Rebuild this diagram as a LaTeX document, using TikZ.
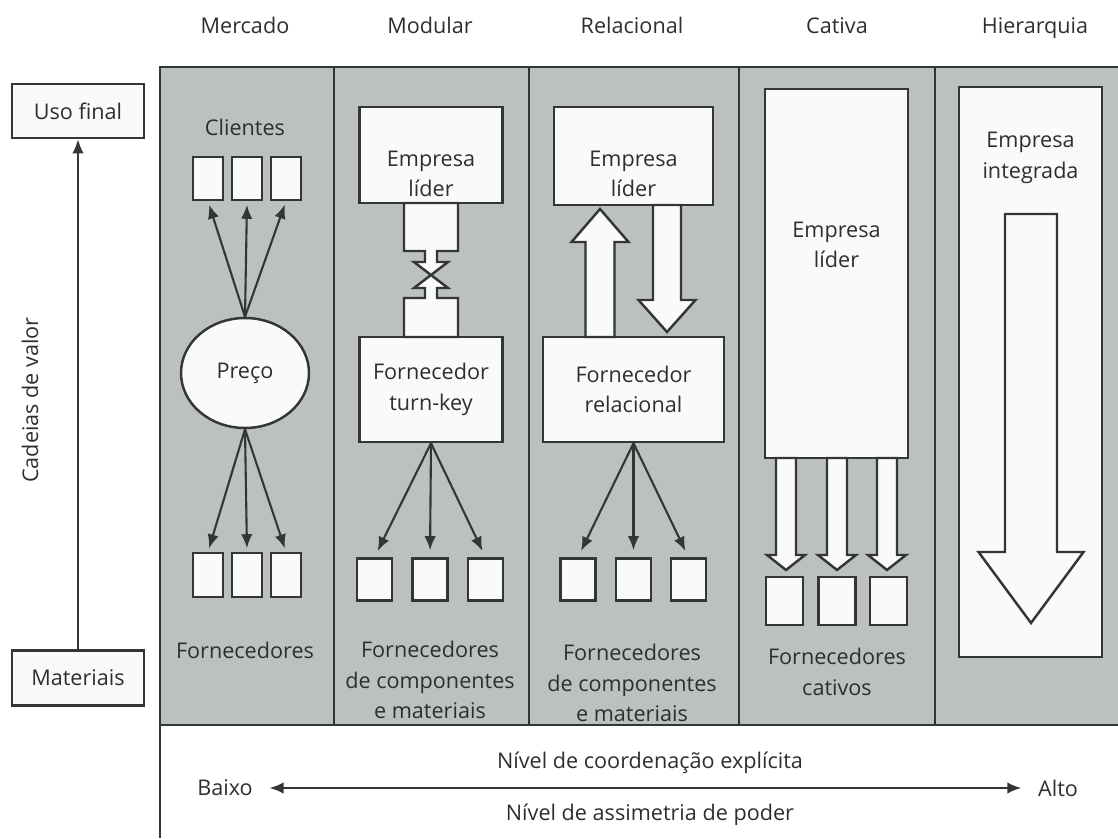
\documentclass[tikz,border=0pt]{standalone}
\usepackage{fontspec}
\setmainfont{Open Sans}
\usetikzlibrary{arrows.meta}
\usetikzlibrary{shapes.geometric}
\definecolor{color_panel_bg}{HTML}{BBC1C1}
\definecolor{color_line}{HTML}{353535}
\definecolor{color_box}{HTML}{FAFAFA}
\definecolor{color_text}{HTML}{2E2E2E}
\def\boxlinewidth{1.4pt}
\def\arrowlinewidth{1.2pt}
\def\hollowarrow[#1](#2,#3,#4,#5,#6,#7){
    \draw[#1] ({#2-#6},#3) -- ({#2-#6},#4) -- ({#2-#7},#4) -- (#2,#5)
        -- ({#2+#7},#4) -- ({#2+#6},#4) -- ({#2+#6},#3) -- cycle;
}

\begin{document}
\begin{tikzpicture}[x=0.02cm,y=-0.02cm,
        every node/.style={text=color_text,font=\fontsize{12.3}{17.5}\selectfont,align=center},
        title/.style={anchor=base},
        box/.style={draw=color_line,fill=color_box,line width=\boxlinewidth,inner sep=0pt},
        cell/.style={box,minimum width=0.7cm,minimum height=0.84cm},
        hollow/.style={draw=color_line,fill=color_box,line width=\boxlinewidth,line join=miter},
        arrow/.style={color_line,line width=\arrowlinewidth,-{Latex[length=8pt,width=6.5pt]}}]
        \useasboundingbox (0,0) rectangle (1118,838);
        % panel
        \fill[color_panel_bg] (160,67) rectangle (1118,725);
        \draw[color_line,line width=\boxlinewidth] (1118,67) -- (160,67) -- (160,838);
        \draw[color_line,line width=\boxlinewidth] (160,725) -- (1118,725);
        \foreach \x in {334,529,739,935}
            \draw[color_line,line width=\boxlinewidth] (\x,67) -- (\x,725);
        % column titles
        \node[title] (t_mercado) at (245,34) {Mercado};
        \node[title] (t_modular) at (430,34) {Modular};
        \node[title] (t_relacional) at (632,34) {Relacional};
        \node[title] (t_cativa) at (837,34) {Cativa};
        \node[title] (t_hierarquia) at (1035,34) {Hierarquia};
        % value chain axis
        \node[box,minimum width=2.64cm,minimum height=1.08cm] (usofinal) at (78,111) {Uso final};
        \node[box,minimum width=2.64cm,minimum height=1.1cm] (materiais) at (78,678) {Materiais};
        \draw[arrow] (materiais) -- (usofinal);
        \node[rotate=90] (cadeias) at (30,400) {Cadeias de valor};
        % mercado
        \node (clientes) at (245,127) {Clientes};
        \node[cell,minimum width=0.6cm,minimum height=0.86cm] (cli1) at (208,178.5) {};
        \node[cell,minimum width=0.6cm,minimum height=0.86cm] (cli2) at (247,178.5) {};
        \node[cell,minimum width=0.6cm,minimum height=0.86cm] (cli3) at (286,178.5) {};
        \node[box,ellipse,minimum width=2.56cm,minimum height=2.2cm] (preco) at (245,373) {Preço};
        \node[cell,minimum width=0.6cm,minimum height=0.88cm] (mfor1) at (208,575) {};
        \node[cell,minimum width=0.6cm,minimum height=0.88cm] (mfor2) at (247,575) {};
        \node[cell,minimum width=0.6cm,minimum height=0.88cm] (mfor3) at (286,575) {};
        \node (fornecedores) at (245,650) {Fornecedores};
        \foreach \i in {1,2,3} {
            \draw[arrow,shorten >=2pt] (preco.north) -- (cli\i.south);
            \draw[arrow,shorten >=2pt] (preco.south) -- (mfor\i.north);
        }
        % modular
        \node[box,minimum width=2.86cm,minimum height=1.92cm] (lider_mod) at (431,155) {};
        \node (lider_mod_txt) at (431,174) {Empresa\\líder};
        \node[box,minimum width=2.86cm,minimum height=2.1cm] (turnkey) at (431,389.5) {Fornecedor\\turn-key};
        \draw[hollow] (404,203) -- (404,251) -- (425,251) -- (425,262) -- (414,262) -- (431,275)
            -- (448,262) -- (437,262) -- (437,251) -- (458,251) -- (458,203) -- cycle;
        \draw[hollow] (404,337) -- (404,298) -- (425,298) -- (425,288) -- (414,288) -- (431,275)
            -- (448,288) -- (437,288) -- (437,298) -- (458,298) -- (458,337) -- cycle;
        \node[cell] (mod1) at (374.5,579.5) {};
        \node[cell] (mod2) at (430,579.5) {};
        \node[cell] (mod3) at (485.5,579.5) {};
        \foreach \i in {1,2,3}
            \draw[arrow,shorten >=4pt] (turnkey.south) -- (mod\i.north);
        \node (componentes_mod) at (430,680) {Fornecedores\\de componentes\\e materiais};
        % relacional
        \node[box,minimum width=3.18cm,minimum height=1.96cm] (lider_rel) at (633.5,156) {};
        \node (lider_rel_txt) at (633.5,174) {Empresa\\líder};
        \node[box,minimum width=3.62cm,minimum height=2.1cm] (relacional) at (633.5,389.5) {Fornecedor\\relacional};
        \hollowarrow[hollow](600,337,242,209,14.5,28.5)
        \hollowarrow[hollow](667,205,300,332,14,28.5)
        \node[cell] (rel1) at (578,579.5) {};
        \node[cell] (rel2) at (633.5,579.5) {};
        \node[cell] (rel3) at (688.5,579.5) {};
        \foreach \i in {1,2,3}
            \draw[arrow,shorten >=4pt] (relacional.south) -- (rel\i.north);
        \node (componentes_rel) at (632,683) {Fornecedores\\de componentes\\e materiais};
        % cativa
        \node[box,minimum width=2.86cm,minimum height=7.38cm] (lider_cat) at (836.5,273.5) {};
        \node (lider_cat_txt) at (836.5,245) {Empresa\\líder};
        \foreach \x in {786,837,887}
            \hollowarrow[hollow](\x,458,555,570,10,19)
        \node[cell,minimum width=0.74cm,minimum height=0.96cm] (cat1) at (784.5,601) {};
        \node[cell,minimum width=0.74cm,minimum height=0.96cm] (cat2) at (837,601) {};
        \node[cell,minimum width=0.74cm,minimum height=0.96cm] (cat3) at (888.5,601) {};
        \node (cativos) at (837,672) {Fornecedores\\cativos};
        % hierarquia
        \node[box,minimum width=2.86cm,minimum height=11.4cm] (integrada) at (1030.5,372) {};
        \node (integrada_txt) at (1030.5,158) {Empresa\\integrada};
        \hollowarrow[hollow](1031,214,552,623,26,52.5)
        % coordination axis
        \node (coordenacao) at (650,763) {Nível de coordenação explícita};
        \node (assimetria) at (650,815) {Nível de assimetria de poder};
        \node (baixo) at (225,788) {Baixo};
        \node (alto) at (1058,788) {Alto};
        \draw[arrow,{Latex[length=8pt,width=6.5pt]}-{Latex[length=8pt,width=6.5pt]},shorten <=6pt,shorten >=6pt] (baixo) -- (alto);
    \end{tikzpicture}
\end{document}
